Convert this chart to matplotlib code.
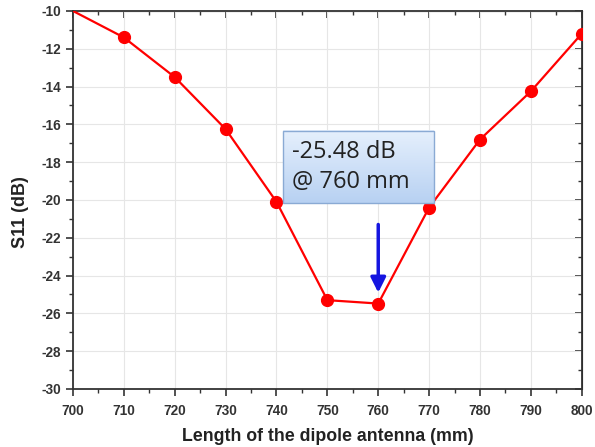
import matplotlib
matplotlib.use("Agg")
import matplotlib.pyplot as plt
import numpy as np
from matplotlib.patches import Rectangle

lengths = [700, 710, 720, 730, 740, 750, 760, 770, 780, 790, 800]
s11 = [-10.0, -11.4, -13.5, -16.25, -20.1, -25.3, -25.48, -20.4, -16.8, -14.25, -11.2]
x_ticks = [700, 710, 720, 730, 740, 750, 760, 770, 780, 790, 800]
y_ticks = [-30, -28, -26, -24, -22, -20, -18, -16, -14, -12, -10]

plt.rcParams['font.family'] = ['Liberation Sans', 'DejaVu Sans']
plt.rcParams['axes.unicode_minus'] = False

fig = plt.figure(figsize=(5.95, 4.47), dpi=100)
ax = fig.add_axes([0.1227, 0.1298, 0.855, 0.8456])

ax.plot(lengths, s11, color='#ff0000', lw=1.6, marker='o', ms=8.5,
        markevery=list(range(1, len(lengths))), zorder=5, clip_on=True)

ax.set_xlim(700, 800)
ax.set_ylim(-30, -10)
ax.set_xticks(x_ticks)
ax.set_yticks(y_ticks)
ax.set_xticks(np.arange(705, 800, 10), minor=True)
ax.set_yticks(np.arange(-29, -10, 2), minor=True)
ax.grid(True, which='major', color='#e6e6e6', lw=0.8)
ax.set_axisbelow(True)
for lab in ax.get_xticklabels() + ax.get_yticklabels():
    lab.set_fontweight('bold')
ax.tick_params(axis='both', which='major', direction='out', length=5, width=1.2,
               labelsize=9.8, colors='#333333', labelcolor='#333333')
ax.tick_params(axis='x', which='major', pad=6)
ax.tick_params(axis='both', which='minor', direction='out', length=3, width=1.0, colors='#333333')
for sp in ax.spines.values():
    sp.set_linewidth(1.3)
    sp.set_color('#333333')

top = ax.secondary_xaxis('top')
top.set_xticks(x_ticks)
top.set_xticks(np.arange(705, 800, 10), minor=True)
top.tick_params(which='major', direction='in', length=5, width=1.2, labeltop=False, colors='#333333')
top.tick_params(which='minor', direction='in', length=3, width=1.0, colors='#333333')
top.set_xticklabels([])
right = ax.secondary_yaxis('right')
right.set_yticks(y_ticks)
right.set_yticks(np.arange(-29, -10, 2), minor=True)
right.tick_params(which='major', direction='in', length=5, width=1.2, labelright=False, colors='#333333')
right.tick_params(which='minor', direction='in', length=3, width=1.0, colors='#333333')
right.set_yticklabels([])

ax.set_xlabel('Length of the dipole antenna (mm)', fontsize=12.8, fontweight='bold', color='#222222')
ax.set_ylabel('S11 (dB)', fontsize=13, fontweight='bold', color='#222222')
ax.xaxis.set_label_coords(0.501, -0.103)
ax.yaxis.set_label_coords(-0.087, 0.468)

# annotation box with gradient
x0, x1, y0, y1 = 741.3, 770.9, -20.16, -16.35
grad = np.linspace(0, 1, 100).reshape(-1, 1)
c_top = np.array([0.90, 0.94, 0.99])
c_bot = np.array([0.72, 0.82, 0.95])
img = c_top[None, None, :] * (1 - grad[:, :, None]) + c_bot[None, None, :] * grad[:, :, None]
ax.imshow(img, extent=[x0, x1, y0, y1], origin='upper', aspect='auto', zorder=6)
ax.add_patch(Rectangle((x0, y0), x1 - x0, y1 - y0, fill=False, ec='#8aaad4', lw=1.0, zorder=7))
ax.text(x0 + 1.8, (y0 + y1) / 2, '-25.48 dB\n@ 760 mm', fontsize=17, family=['Open Sans', 'DejaVu Sans'],
        color='#222222', va='center', ha='left', linespacing=1.28, zorder=8)
ax.set_xlim(700, 800)
ax.set_ylim(-30, -10)

ax.annotate('', xy=(760, -25.05), xytext=(760, -21.15),
            arrowprops=dict(arrowstyle='-|>,head_width=0.45,head_length=0.9', color='#1515e0', lw=2.5),
            zorder=9)

fig.savefig('out.png', dpi=100)
